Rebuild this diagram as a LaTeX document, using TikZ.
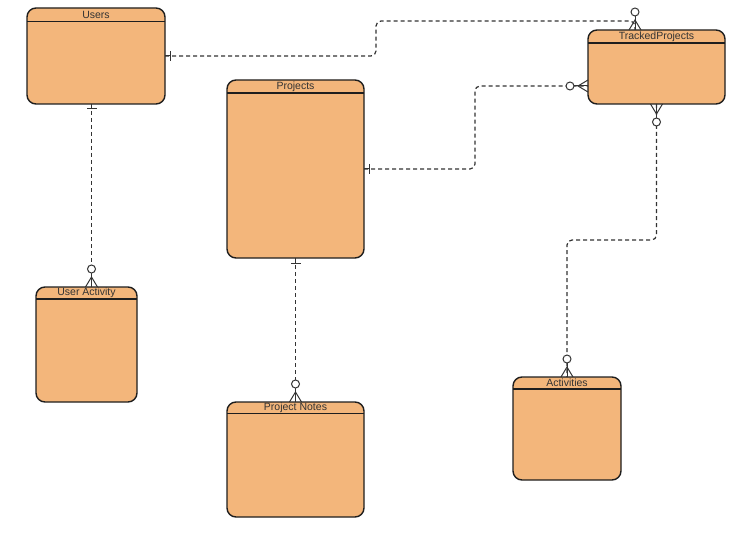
\documentclass[tikz,border=0pt]{standalone}
\usepackage{fontspec}
\setmainfont{Liberation Sans}
\usetikzlibrary{calc}
\definecolor{efill}{RGB}{243,182,123}
\definecolor{edraw}{RGB}{30,30,30}
\definecolor{ctext}{RGB}{51,51,51}
\definecolor{cline}{RGB}{51,51,51}
\begin{document}
\begin{tikzpicture}[x=1pt,y=-1pt,
 entity/.style={draw=edraw, fill=efill, line width=1.4pt, rounded corners=9pt, outer sep=0pt, inner sep=0pt},
 hdr/.style={draw=edraw, line width=1.2pt},
 ttl/.style={font=\fontsize{10.5}{12}\selectfont, text=ctext, inner sep=0pt},
 conn/.style={draw=cline, line width=1.2pt, dash pattern=on 4pt off 3pt, rounded corners=5pt},
 mk/.style={draw=cline, line width=1pt},
 zmany/.pic={\draw[mk] (0,-6) -- (10,0) -- (0,6); \draw[mk] (0,0) -- (14,0); \draw[mk,fill=white] (18,0) circle (4pt);},
 onebar/.pic={\draw[mk] (0,0) -- (5,0); \draw[mk] (5,-5) -- (5,5);}
]
\useasboundingbox (0,0) rectangle (754,540);

% entities
\node[entity, minimum width=138pt, minimum height=96pt] (users) at (96,56) {};
\node[entity, minimum width=137pt, minimum height=74pt] (tracked) at (656.5,67) {};
\node[entity, minimum width=137pt, minimum height=178pt] (projects) at (295.5,169) {};
\node[entity, minimum width=101pt, minimum height=115pt] (useract) at (86.5,344.5) {};
\node[entity, minimum width=137pt, minimum height=115pt] (notes) at (295.5,459.5) {};
\node[entity, minimum width=108pt, minimum height=103pt] (activities) at (567,428.5) {};

% header lines
\foreach \e/\h in {users/13.5, tracked/13, projects/13, useract/12, notes/11.5, activities/12}{
  \draw[hdr] ($(\e.north west)+(0,\h)$) -- ($(\e.north east)+(0,\h)$);
}

% titles
\node[ttl] (users-t) at ($(users.north)+(0,7)$) {Users};
\node[ttl] (tracked-t) at ($(tracked.north)+(0,6.5)$) {TrackedProjects};
\node[ttl] (projects-t) at ($(projects.north)+(0,6.5)$) {Projects};
\node[ttl] (useract-t) at ($(useract.north)+(0,6)$) {User Activity};
\node[ttl] (notes-t) at ($(notes.north)+(0,6)$) {Project Notes};
\node[ttl] (activities-t) at ($(activities.north)+(0,6)$) {Activities};

% anchor coordinates
\coordinate (ttop) at ($(tracked.north)+(-21.5,0)$);
\coordinate (twest) at ($(tracked.west)+(0,19)$);
\coordinate (ubot) at ($(users.south)+(-4.5,0)$);
\coordinate (uatop) at (ubot |- useract.north);

% connectors
\draw[conn] (users.east) -- ++(211,0) |- ($(ttop)+(0,-9)$) -- (ttop);
\draw[conn] (projects.east) -- ++(111,0) |- (twest);
\draw[conn] (tracked.south) -- ++(0,136) -| (activities.north);
\draw[conn] (ubot) -- (uatop);
\draw[conn] (projects.south) -- (notes.north);

% markers
\pic at (users.east) {onebar};
\pic[rotate=90] at (ttop) {zmany};
\pic at (projects.east) {onebar};
\pic[rotate=180] at (twest) {zmany};
\pic[rotate=-90] at (tracked.south) {zmany};
\pic[rotate=90] at (activities.north) {zmany};
\pic[rotate=-90] at (ubot) {onebar};
\pic[rotate=90] at (uatop) {zmany};
\pic[rotate=-90] at (projects.south) {onebar};
\pic[rotate=90] at (notes.north) {zmany};
\end{tikzpicture}
\end{document}
